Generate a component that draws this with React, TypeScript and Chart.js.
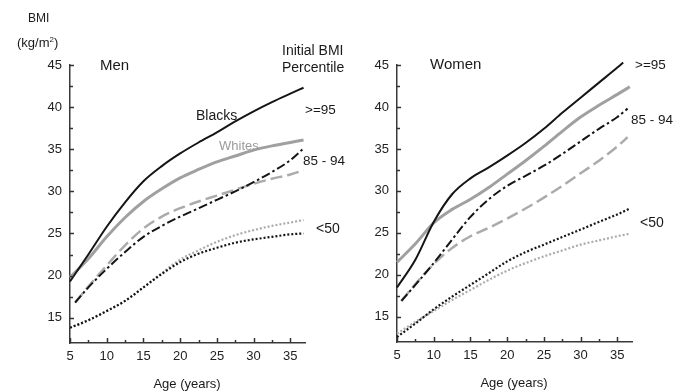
import React, { useEffect, useRef } from 'react';
import { Chart, registerables } from 'chart.js';

Chart.register(...registerables);

// ---------- data ----------
const xTickValues = [5, 7.5, 10, 12.5, 15, 17.5, 20, 22.5, 25, 27.5, 30, 32.5, 35];
const yTickValues = [15, 17.5, 20, 22.5, 25, 27.5, 30, 32.5, 35, 37.5, 40, 42.5, 45];

// Men
const menAges = [5, 7.5, 10, 12.5, 15, 17.5, 20, 22.5, 25, 27.5, 30, 32.5, 35, 36.8];
const menDashAges = [5.7, 7.5, 10, 12.5, 15, 17.5, 20, 22.5, 25, 27.5, 30, 32.5, 35, 36.8];
const menBlack95 = [19.3, 22.5, 25.8, 28.7, 31.2, 33.0, 34.5, 35.8, 37.0, 38.3, 39.5, 40.6, 41.6, 42.3];
const menWhite95 = [19.8, 22.0, 24.6, 26.9, 28.8, 30.3, 31.6, 32.6, 33.5, 34.2, 34.9, 35.4, 35.8, 36.1];
const menBlack85 = [16.8, 18.6, 20.8, 22.8, 24.6, 25.9, 27.0, 28.0, 29.0, 30.0, 31.1, 32.3, 33.7, 35.1];
const menWhite85 = [16.8, 18.7, 21.2, 23.6, 25.6, 27.0, 28.0, 28.8, 29.5, 30.2, 30.9, 31.5, 32.0, 32.5];
const menBlack50 = [13.8, 14.7, 15.8, 17.0, 18.6, 20.2, 21.6, 22.6, 23.3, 23.9, 24.3, 24.6, 24.9, 25.0];
const menWhite50 = [13.8, 14.7, 15.8, 17.0, 18.6, 20.3, 21.9, 23.0, 24.0, 24.8, 25.4, 25.9, 26.3, 26.6];

// Women
const womenAges = [5, 7.5, 10, 12.5, 15, 17.5, 20, 22.5, 25, 27.5, 30, 32.5, 35, 36.7];
const womenBlackAges = [5, 7.5, 10, 12.5, 15, 17.5, 20, 22.5, 25, 27.5, 30, 32.5, 35, 35.8];
const womenDashAges = [5.6, 7.5, 10, 12.5, 15, 17.5, 20, 22.5, 25, 27.5, 30, 32.5, 35, 36.4];
const womenBlack95 = [18.5, 21.8, 26.3, 29.6, 31.5, 32.8, 34.2, 35.7, 37.4, 39.3, 41.1, 42.9, 44.7, 45.3];
const womenWhite95 = [21.5, 23.7, 26.2, 27.8, 29.0, 30.4, 32.0, 33.6, 35.3, 37.1, 38.8, 40.2, 41.5, 42.4];
const womenBlack85 = [16.9, 18.8, 21.4, 24.2, 26.9, 29.0, 30.6, 31.8, 33.0, 34.4, 35.9, 37.4, 38.8, 39.8];
const womenWhite85 = [16.9, 18.9, 21.3, 23.2, 24.6, 25.6, 26.7, 27.9, 29.2, 30.6, 32.1, 33.6, 35.3, 36.4];
const womenBlack50 = [12.6, 14.2, 15.9, 17.4, 18.8, 20.2, 21.6, 22.7, 23.6, 24.5, 25.4, 26.3, 27.2, 27.9];
const womenWhite50 = [13.0, 14.4, 15.7, 17.0, 18.2, 19.4, 20.5, 21.4, 22.2, 22.9, 23.6, 24.1, 24.6, 24.9];

// ---------- styles ----------
const FONT = '"Liberation Sans", Arial, Helvetica, sans-serif';
const BLACK = '#151515';
const GRAY = '#a0a0a0';
const GRAY_LIGHT = '#ababab';

const pts = (xs: number[], ys: number[]) => xs.map((x, i) => ({ x, y: ys[i] }));

type Style = { color: string; width: number; dash: number[] };
const styleBlackSolid: Style = { color: BLACK, width: 2, dash: [] };
const styleGraySolid: Style = { color: GRAY, width: 3, dash: [] };
const styleBlackDashDot: Style = { color: BLACK, width: 2, dash: [9, 3, 2.5, 3] };
const styleGrayDash: Style = { color: GRAY_LIGHT, width: 2.5, dash: [12, 5] };
const styleBlackDot: Style = { color: BLACK, width: 2.2, dash: [2, 2] };
const styleGrayDot: Style = { color: GRAY_LIGHT, width: 2.2, dash: [2, 2] };

const ds = (label: string, xs: number[], ys: number[], s: Style) => ({
  label,
  data: pts(xs, ys),
  borderColor: s.color,
  borderWidth: s.width,
  borderDash: s.dash,
  pointRadius: 0,
  fill: false,
  cubicInterpolationMode: 'monotone' as const,
  clip: 6,
});

const innerTicks = {
  id: 'innerTicks',
  afterDatasetsDraw(chart: any) {
    const ctx = chart.ctx;
    const xs = chart.scales.x;
    const ys = chart.scales.y;
    const area = chart.chartArea;
    ctx.save();
    ctx.setLineDash([]);
    ctx.strokeStyle = '#333';
    ctx.lineWidth = 1.5;
    xs.ticks.forEach((t: any) => {
      const px = Math.round(xs.getPixelForValue(t.value)) + 0.5;
      const len = t.value % 5 === 0 ? 5 : 3;
      ctx.beginPath();
      ctx.moveTo(px, area.bottom);
      ctx.lineTo(px, area.bottom - len);
      ctx.stroke();
    });
    ys.ticks.forEach((t: any) => {
      const py = Math.round(ys.getPixelForValue(t.value)) + 0.5;
      const len = t.value % 5 === 0 ? 4 : 3;
      ctx.beginPath();
      ctx.moveTo(area.left, py);
      ctx.lineTo(area.left + len, py);
      ctx.stroke();
    });
    ctx.restore();
  },
};

function makeConfig(datasets: any[], yWidth: number, xHeight: number, padRight: number) {
  const label = (v: any) => (Number(v) % 5 === 0 ? String(v) : '');
  return {
    type: 'line' as const,
    data: { datasets },
    options: {
      animation: false as const,
      responsive: false,
      events: [],
      layout: { padding: { top: 65, right: padRight, left: 0, bottom: 0 } },
      plugins: { legend: { display: false }, tooltip: { enabled: false } },
      scales: {
        x: {
          type: 'linear' as const,
          min: 5,
          max: 37,
          afterBuildTicks: (s: any) => {
            s.ticks = xTickValues.map((v) => ({ value: v }));
          },
          afterFit: (s: any) => {
            s.height = xHeight;
          },
          grid: { display: true, drawOnChartArea: false, drawTicks: false },
          border: { display: true, color: '#3a3a3a', width: 1.5 },
          ticks: {
            autoSkip: false,
            maxRotation: 0,
            padding: 6,
            color: '#222',
            font: { family: FONT, size: 13 },
            callback: label,
          },
        },
        y: {
          type: 'linear' as const,
          min: 12,
          max: 45,
          afterBuildTicks: (s: any) => {
            s.ticks = yTickValues.map((v) => ({ value: v }));
          },
          afterFit: (s: any) => {
            s.width = yWidth;
          },
          grid: { display: true, drawOnChartArea: false, drawTicks: false },
          border: { display: true, color: '#3a3a3a', width: 1.5 },
          ticks: {
            autoSkip: false,
            padding: 8,
            color: '#222',
            font: { family: FONT, size: 13 },
            callback: label,
          },
        },
      },
    },
    plugins: [innerTicks],
  };
}

function Panel({ left, width, datasets, yWidth, xHeight, padRight }: any) {
  const ref = useRef<HTMLCanvasElement | null>(null);
  useEffect(() => {
    if (!ref.current) return;
    const chart = new Chart(ref.current, makeConfig(datasets, yWidth, xHeight, padRight) as any);
    return () => chart.destroy();
  }, []);
  return (
    <div style={{ position: 'absolute', left, top: 0, width, height: 391 }}>
      <canvas ref={ref} width={width} height={391} style={{ display: 'block' }} />
    </div>
  );
}

function Txt({ x, y, size, children, color = '#1a1a1a', align = 'left' }: any) {
  const style: any = {
    position: 'absolute',
    top: y - size * 0.6,
    fontFamily: FONT,
    fontSize: size,
    lineHeight: `${size * 1.2}px`,
    color,
    whiteSpace: 'nowrap',
  };
  style.left = x;
  if (align === 'center') style.transform = 'translateX(-50%)';
  return <div style={style}>{children}</div>;
}

export default function App() {
  const menSets = [
    ds('Blacks >=95', menAges, menBlack95, styleBlackSolid),
    ds('Whites >=95', menAges, menWhite95, styleGraySolid),
    ds('Blacks 85-94', menDashAges, menBlack85, styleBlackDashDot),
    ds('Whites 85-94', menDashAges, menWhite85, styleGrayDash),
    ds('Blacks <50', menAges, menBlack50, styleBlackDot),
    ds('Whites <50', menAges, menWhite50, styleGrayDot),
  ];
  const womenSets = [
    ds('Blacks >=95', womenBlackAges, womenBlack95, styleBlackSolid),
    ds('Whites >=95', womenAges, womenWhite95, styleGraySolid),
    ds('Blacks 85-94', womenDashAges, womenBlack85, styleBlackDashDot),
    ds('Whites 85-94', womenDashAges, womenWhite85, styleGrayDash),
    ds('Blacks <50', womenAges, womenBlack50, styleBlackDot),
    ds('Whites <50', womenAges, womenWhite50, styleGrayDot),
  ];
  return (
    <div
      style={{
        position: 'fixed',
        left: 0,
        top: 0,
        width: 674,
        height: 391,
        background: '#fff',
        overflow: 'hidden',
      }}
    >
      <Panel left={0} width={337} datasets={menSets} yWidth={70} xHeight={48} padRight={32} />
      <Panel left={337} width={337} datasets={womenSets} yWidth={60} xHeight={49} padRight={42} />

      <Txt x={28} y={18} size={12}>BMI</Txt>
      <Txt x={17} y={43} size={13}>
        (kg/m<sup style={{ fontSize: 8, verticalAlign: 'super', lineHeight: 0 }}>2</sup>)
      </Txt>
      <Txt x={100} y={65} size={15}>Men</Txt>
      <Txt x={282} y={50} size={14}>Initial BMI</Txt>
      <Txt x={282} y={67} size={14}>Percentile</Txt>
      <Txt x={196} y={115} size={14}>Blacks</Txt>
      <Txt x={219} y={146} size={13} color="#9a9a9a">Whites</Txt>
      <Txt x={305} y={110} size={13.5}>&gt;=95</Txt>
      <Txt x={303} y={161} size={13.5}>85 - 94</Txt>
      <Txt x={316} y={228} size={14}>&lt;50</Txt>
      <Txt x={187} y={384} size={13} align="center">Age (years)</Txt>

      <Txt x={430} y={64} size={15}>Women</Txt>
      <Txt x={635} y={65} size={13.5}>&gt;=95</Txt>
      <Txt x={631} y={120} size={13.5}>85 - 94</Txt>
      <Txt x={640} y={222} size={14}>&lt;50</Txt>
      <Txt x={514} y={383} size={13} align="center">Age (years)</Txt>
    </div>
  );
}
